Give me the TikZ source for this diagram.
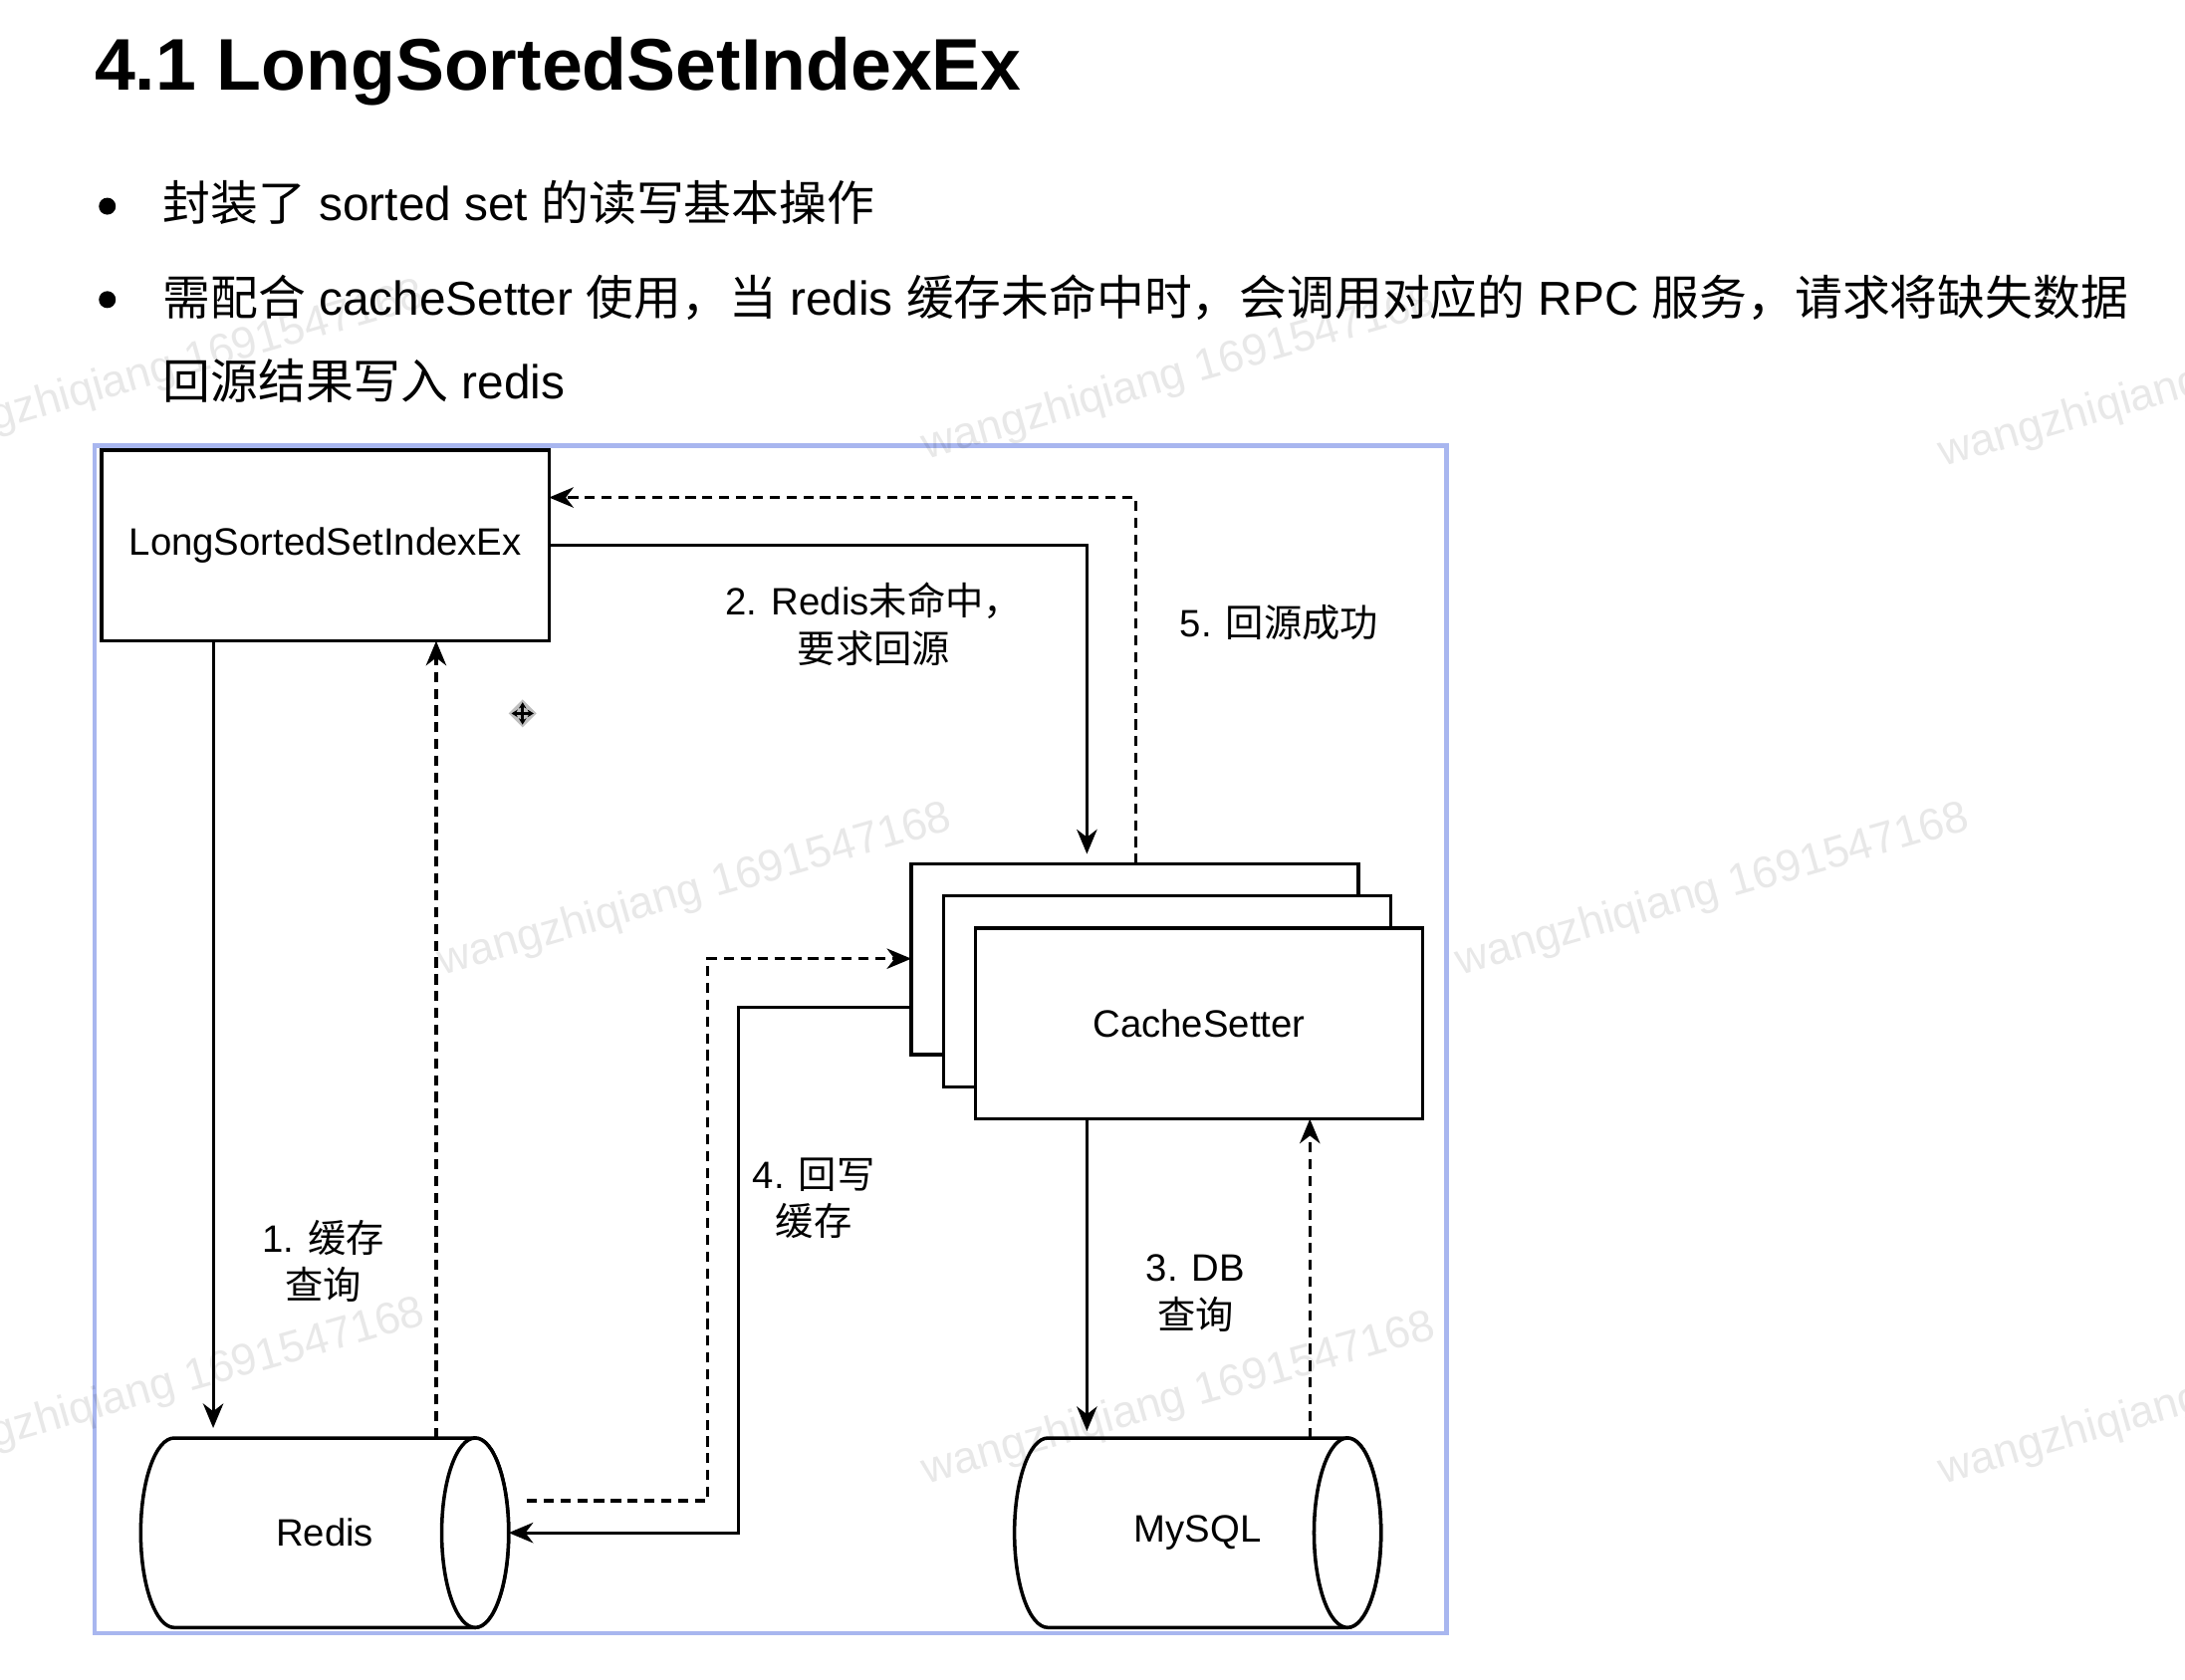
\documentclass[tikz,border=0pt]{standalone}
\usepackage{fontspec}
\setmainfont{Liberation Sans}
\newfontfamily\cjk{Noto Sans CJK SC}
\usetikzlibrary{arrows.meta}
\newcommand{\zh}[1]{{\cjk #1}}
\definecolor{frameblue}{HTML}{A8B6EF}
\begin{document}
\begin{tikzpicture}[x=0.013992cm,y=-0.013992cm,
  every node/.style={inner sep=0pt, outer sep=0pt},
  box/.style={draw=black, line width=1pt, fill=white, minimum width=4.491cm, minimum height=1.917cm, font=\fontsize{10.9pt}{13.5pt}\selectfont},
  cylnode/.style={minimum width=3.694cm, minimum height=1.903cm, font=\fontsize{10.9pt}{13.5pt}\selectfont},
  cylline/.style={draw=black, line width=1pt, fill=white},
  lbl/.style={align=center, font=\fontsize{10.9pt}{13.6pt}\selectfont},
  bodytext/.style={anchor=base west, font=\fontsize{13.6pt}{16pt}\selectfont},
  conn/.style={line width=0.9pt, -{Stealth[length=7pt,width=5.8pt,inset=2.2pt]}},
  dsh/.style={conn, dash pattern=on 2.9pt off 1.9pt},
  wm/.style={anchor=base west, rotate=16, text=black, text opacity=0.09, font=\fontsize{12.7pt}{15pt}\selectfont}]
% page
\fill[white] (0,0) rectangle (1568,1205);
\useasboundingbox (0,0) rectangle (1568,1205);

% title and bullets
\node[anchor=base west, font=\bfseries\fontsize{20.9pt}{24pt}\selectfont] (title) at (68,65) {4.1 LongSortedSetIndexEx};
\fill (77,148) circle[radius=0.085cm];
\fill (77,215) circle[radius=0.085cm];
\node[bodytext] (b1) at (117,158) {\zh{封装了} sorted set \zh{的读写基本操作}};
\node[bodytext] (b2) at (117,226) {\zh{需配合} cacheSetter \zh{使用，当} redis \zh{缓存未命中时，会调用对应的} RPC \zh{服务，请求将缺失数据}};
\node[bodytext] (b3) at (117,286) {\zh{回源结果写入} redis};

% frame
\draw[draw=frameblue, line width=1.3pt] (68,320) rectangle (1038,1172);

% helper coordinates
\coordinate (x153) at (153,0);
\coordinate (x313) at (313,0);
\coordinate (x508) at (508,0);
\coordinate (x530) at (530,0);
\coordinate (x780) at (780,0);
\coordinate (x815) at (815,0);
\coordinate (x940) at (940,0);
\coordinate (y357) at (0,357);
\coordinate (y688) at (0,688);
\coordinate (y723) at (0,723);
\coordinate (y1077) at (0,1077);

% boxes
\node[box] (lssi) at (233.5,391.5) {LongSortedSetIndexEx};
\node[box] (csback) at (814.5,688.5) {};
\node[box] (csmid) at (837.5,711.5) {};
\node[box] (csfront) at (860.5,734.5) {CacheSetter};

% cylinders
\draw[cylline] (341,1032) -- (125,1032) arc[start angle=90,end angle=270,x radius=0.3358cm,y radius=0.9515cm] -- (341,1168) arc[start angle=-90,end angle=90,x radius=0.3358cm,y radius=0.9515cm] -- cycle;
\draw[cylline] (341,1100) ellipse[x radius=0.3358cm,y radius=0.9515cm];
\node[cylnode] (redis) at (233,1100) {Redis};
\draw[cylline] (967,1032) -- (752,1032) arc[start angle=90,end angle=270,x radius=0.3358cm,y radius=0.9515cm] -- (967,1168) arc[start angle=-90,end angle=90,x radius=0.3358cm,y radius=0.9515cm] -- cycle;
\draw[cylline] (967,1100) ellipse[x radius=0.3358cm,y radius=0.9515cm];
\node[cylnode] (mysql) at (859.5,1100) {MySQL};

% connectors
\draw[conn] (x153 |- lssi.south) -- ([yshift=0.1cm]x153 |- redis.north);
\draw[dsh] (x313 |- redis.north) -- (x313 |- lssi.south);
\draw[conn] (lssi.east) -| ([yshift=0.1cm]x780 |- csback.north);
\draw[dsh] (x815 |- csback.north) |- (lssi.east |- y357);
\draw[conn] (csback.west |- y723) -- (x530 |- y723) |- (redis.east);
\draw[dsh, shorten <=5.2pt] (redis.east |- y1077) -| (x508 |- y688) -- (csback.west |- y688);
\draw[conn] (x780 |- csfront.south) -- ([yshift=0.07cm]x780 |- mysql.north);
\draw[dsh] (x940 |- mysql.north) -- (x940 |- csfront.south);

% labels
\node[lbl] (l1) at (232,905) {1. \zh{缓存}\\\zh{查询}};
\node[lbl] (l2) at (627,448) {2. Redis\zh{未命中，}\\\zh{要求回源}};
\node[lbl] (l5) at (918,447) {5. \zh{回源成功}};
\node[lbl] (l4) at (584,860) {4. \zh{回写}\\\zh{缓存}};
\node[lbl] (l3) at (858,928) {3. DB\\\zh{查询}};

% cursor icon
\fill[black!25] (375,502) -- (385,512) -- (375,522) -- (365,512) -- cycle;
\draw[line width=0.7pt, {Stealth[length=1.8pt,width=2.2pt]}-{Stealth[length=1.8pt,width=2.2pt]}] (367,512) -- (383,512);
\draw[line width=0.7pt, {Stealth[length=1.8pt,width=2.2pt]}-{Stealth[length=1.8pt,width=2.2pt]}] (375,504) -- (375,520);

% watermarks
\node[wm] (w1) at (-60,325) {wangzhiqiang 1691547168};
\node[wm] (w2) at (665,330) {wangzhiqiang 1691547168};
\node[wm] (w3) at (1395,335) {wangzhiqiang 1691547168};
\node[wm] (w4) at (318,700) {wangzhiqiang 1691547168};
\node[wm] (w5) at (1048,700) {wangzhiqiang 1691547168};
\node[wm] (w6) at (-60,1055) {wangzhiqiang 1691547168};
\node[wm] (w7) at (665,1065) {wangzhiqiang 1691547168};
\node[wm] (w8) at (1395,1065) {wangzhiqiang 1691547168};
\end{tikzpicture}
\end{document}
